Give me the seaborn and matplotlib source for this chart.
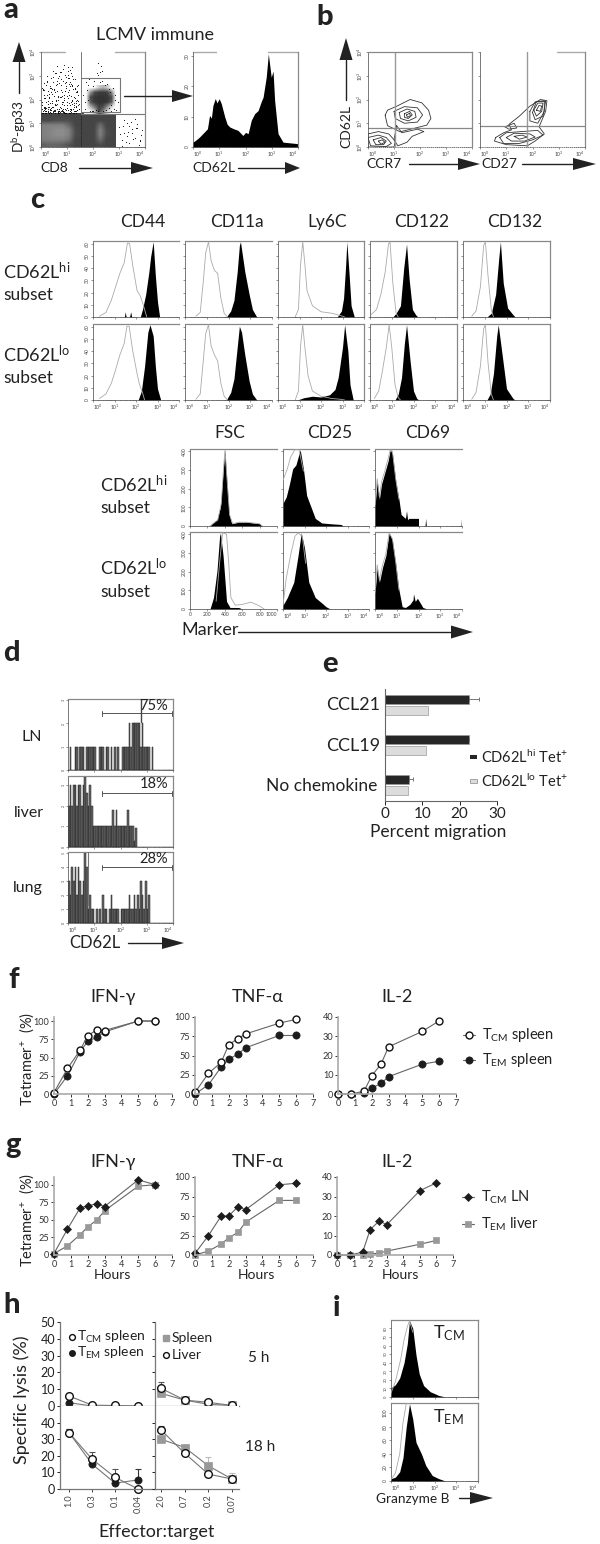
import numpy as np
import pandas as pd
import seaborn as sns
import matplotlib
matplotlib.use('Agg')
import matplotlib.pyplot as plt

sns.set_theme(style='white')
plt.rcParams['font.family'] = ['Lato', 'DejaVu Serif']
plt.rcParams['mathtext.default'] = 'regular'

W, H = 600, 1544
INK = '#222222'
AXGRAY = '#888888'

# ---- values ----
# a: dot plot (log decades)
dots_x = [.05,.1,.15,.2,.25,.3,.35,.4,.45,.5,.55,.6,.65,.7,.75,.8,.85,.9,.95,1.0,1.05,1.1,1.15,1.2,1.25,1.3,1.35,1.4,1.45,
          .08,.18,.28,.38,.48,.58,.68,.78,.88,.98,1.08,1.18,1.28,1.38,.12,.22,.32,.42,.52,.62,.72,.82,.92,1.02,1.12,1.22,1.32,1.42,
          .03,.13,.23,.33,.43,.53,.63,.73,.83,.93,1.03,1.13,1.23,1.33,.07,.27,.47,.67,.87,1.07,1.27,.17,.37,.57,.77,.97,1.17,1.37,
          .11,.31,.51,.71,.91,1.11,1.31,.21,.41,.61,.81,1.01,1.21,1.41,.6,.75,.9,1.05,1.2,1.05,.95,1.1,1.15,
          .2,.3,.5,.7,.9,1.1,1.3,.15,.35,.55,.75,.95,1.15,1.35,.1,.4,.65,.85,1.25,1.4,.05,.25,.45,
          1.62,1.7,1.8,1.72,1.68,1.85,1.95,2.05,2.15,2.25,2.35,2.45,2.55,2.65,2.75,2.85,2.95,2.9,2.8,2.7,2.6,2.5,2.4,2.3,2.2,2.1,2.0,1.9,
          1.75,1.82,2.0,2.6,2.7,2.85,2.3,2.2,2.35,2.2,2.25,2.15,
          3.0,3.1,3.2,3.3,3.4,3.5,3.6,3.7,3.8,3.9,3.05,3.15,3.25,3.35,3.45,3.55,3.65,3.75,3.85,3.2,3.4,3.6,3.8,3.1,3.3,3.5,3.7,
          # denser part of the upper left cloud
          .02,.06,.09,.14,.16,.19,.24,.26,.29,.34,.36,.39,.44,.46,.49,.54,.56,.59,.64,.66,.69,.74,.76,.79,.84,.86,.89,.94,.96,.99,1.04,1.06,1.09,1.14,1.16,1.19,1.24,1.26,1.29,1.34,1.36,1.39,1.44,1.47,
          .04,.1,.16,.22,.28,.34,.4,.46,.52,.58,.64,.7,.76,.82,.88,.94,1.0,1.06,1.12,1.18,1.24,1.3,1.36,1.42,
          .07,.13,.19,.25,.31,.37,.43,.49,.55,.61,.67,.73,.79,.85,.91,.97,1.03,1.09,1.15,1.21,1.27,1.33,1.39,1.45]
dots_y = [1.6,2.2,1.5,2.6,1.8,2.1,1.55,2.9,1.7,2.4,3.1,1.6,2.0,2.7,1.65,2.3,3.3,1.75,2.5,1.9,2.9,1.6,2.15,3.35,1.7,2.45,1.85,2.0,1.6,
          1.5,1.9,2.35,1.65,2.75,1.95,1.5,2.85,2.2,1.55,2.4,1.8,2.1,2.55,2.05,3.0,1.45,2.25,1.8,2.65,2.1,1.55,3.05,2.3,1.75,2.85,1.5,2.2,
          1.75,1.55,2.2,2.55,1.85,1.45,2.35,3.15,1.9,2.7,2.05,2.55,1.6,1.95,2.45,1.7,3.2,1.5,2.0,2.65,1.85,1.65,2.5,2.0,2.1,2.95,1.9,2.3,
          2.7,1.7,2.15,1.6,2.35,3.25,2.05,1.5,2.45,2.8,1.5,2.15,2.6,1.75,3.4,3.15,3.45,3.2,3.0,3.35,2.75,2.75,3.1,
          1.42,1.45,1.5,1.42,1.46,1.44,1.5,1.6,1.48,1.55,1.5,1.45,1.55,1.42,1.65,1.55,1.42,1.47,1.44,1.55,1.42,1.48,1.5,
          2.2,1.6,2.6,2.75,1.9,2.85,1.5,2.8,2.9,2.75,2.8,2.6,2.65,2.3,2.5,2.0,1.9,1.55,1.6,1.5,1.65,1.55,1.5,1.48,1.5,1.55,1.5,1.5,
          2.4,2.0,2.55,2.45,1.75,2.2,3.4,3.55,3.2,3.05,3.15,3.1,
          .85,.3,.6,1.0,.15,.75,.4,.95,.25,.7,.55,.9,.2,.65,1.05,.35,.8,.1,.5,1.15,.9,1.2,.3,.05,.45,.6,.8,
          1.9,1.45,2.4,1.7,2.05,1.5,2.75,1.62,2.25,1.85,2.5,1.45,1.95,2.95,1.55,2.3,1.75,2.6,1.48,2.15,3.0,1.68,2.4,1.9,1.5,2.8,2.05,1.58,2.55,1.78,3.05,1.45,2.2,2.65,1.6,1.95,2.45,1.5,2.85,1.72,2.3,1.55,2.6,1.8,
          2.5,1.7,1.42,2.8,1.95,1.6,2.3,1.46,1.75,3.1,2.1,1.52,2.6,1.82,1.43,2.35,1.65,2.9,1.5,2.0,1.45,2.5,1.7,1.95,
          1.44,2.4,1.65,1.5,2.05,1.43,1.7,2.45,1.52,1.8,2.9,1.47,2.15,1.6,1.44,2.75,1.55,1.85,1.46,2.55,1.75,1.5,2.35,1.62]
band_grays = [[.27,.27,.27,.27,.27,.27,.27,.27,.27,.27,.27,.27],
              [.28,.28,.30,.30,.30,.27,.27,.27,.27,.27,.27,.27],
              [.50,.50,.50,.50,.40,.27,.27,.27,.27,.42,.27,.27],
              [.50,.52,.55,.55,.50,.30,.27,.27,.27,.50,.30,.27],
              [.50,.52,.55,.55,.50,.30,.27,.27,.27,.50,.30,.27],
              [.48,.50,.50,.50,.45,.27,.27,.27,.27,.42,.27,.27],
              [.38,.40,.40,.38,.33,.27,.27,.27,.27,.30,.27,.27]]
blob_grays = [[1,1,1,.8,.7,.8,1,1],
              [1,.6,.3,.24,.24,.26,.55,1],
              [1,.3,.22,.2,.2,.22,.3,1],
              [1,.35,.22,.2,.2,.22,.35,1],
              [1,.7,.45,.25,.3,.55,.85,1],
              [1,1,.8,.25,.5,.85,1,1]]
cd62l_x = [0,.1,.25,.44,.55,.63,.7,.76,.85,.91,1.0,1.08,1.21,1.3,1.4,1.55,1.71,1.9,2.0,2.1,2.22,2.35,2.48,2.6,2.67,2.79,2.87,2.98,3.05,3.11,3.24,3.43,4]
cd62l_y = [1.6,2.2,3.3,5,6,10.4,9.5,13.7,16,14.5,15.9,14.2,9.9,7.5,6.6,6,5.5,3.8,4.8,4.4,8.8,11,12,15,16.4,23,30.7,23,25,15.3,4.4,1.6,1.1]

# b: contour rings (log decades)
ccr7_rings = [[(.66,1.34),(.75,1.55),(1.11,1.72),(1.62,2),(2.07,1.86),(2.33,1.55),(2.42,1.2),(2.26,.92),(1.75,.78),(1.24,.64),(.75,.9)],
              [(1.0,1.5),(1.4,1.7),(1.9,1.65),(2.1,1.35),(1.9,1.05),(1.4,1.0),(1.05,1.2)],
              [(1.2,1.45),(1.5,1.6),(1.8,1.5),(1.85,1.25),(1.55,1.1),(1.25,1.2)],
              [(1.4,1.4),(1.6,1.5),(1.7,1.35),(1.55,1.2),(1.4,1.25)],
              [(1.48,1.35),(1.6,1.42),(1.63,1.32),(1.52,1.25)],
              [(1.1,.9),(1.3,.6),(1.9,.75),(2.15,.65),(1.7,.45),(1.5,.2),(1.15,.05),(1,.3)],
              [(0,.55),(.4,.65),(.8,.55),(1.05,.25),(1,0),(0,0)],
              [(0,.4),(.4,.5),(.7,.4),(.9,.15),(.7,.02),(.1,.05)],
              [(.2,.3),(.5,.4),(.7,.25),(.6,.1),(.3,.1)],
              [(.4,.25),(.55,.3),(.65,.2),(.5,.12)]]
cd27_rings = [[(.6,.4),(.9,.6),(1.2,.72),(1.1,.95),(1.5,1.3),(1.9,1.72),(2.3,2.0),(2.55,1.95),(2.5,1.5),(2.25,.85),(2.45,.55),(2.1,.25),(1.8,.05),(1.0,.1),(.55,.25)],
              [(1.9,1.5),(2.1,1.9),(2.45,1.95),(2.45,1.5),(2.2,1.0),(1.9,1.1)],
              [(2.05,1.55),(2.2,1.85),(2.4,1.85),(2.35,1.5),(2.15,1.3)],
              [(2.15,1.55),(2.25,1.75),(2.35,1.72),(2.3,1.5)],
              [(2.0,1.45),(2.15,1.92),(2.5,1.92),(2.4,1.3),(2.1,1.15)],
              [(.75,.4),(1,.6),(1.6,.65),(2.2,.7),(2.4,.5),(2,.3),(1.5,.15),(.9,.15)],
              [(1.0,.4),(1.3,.58),(1.9,.55),(2.1,.42),(1.7,.25),(1.2,.25)],
              [(1.3,.45),(1.6,.5),(1.8,.42),(1.5,.33)],
              [(.95,.85),(1.3,1.0),(1.4,.8),(1.1,.75)]]

# c: marker histograms, (position, % of peak)
cd44_hi_open = [(.3,1),(.6,6),(.85,22),(1.05,40),(1.25,58),(1.45,72),(1.6,98),(1.7,98),(1.85,68),(2.05,35),(2.2,28),(2.35,15),(2.5,0)]
cd44_hi_fill = [(1.46,0),(1.5,7),(1.54,0),(1.7,0),(1.75,7),(1.8,0),(2.2,0),(2.3,10),(2.45,30),(2.6,60),(2.68,80),(2.8,100),(2.9,55),(3.0,20),(3.1,0)]
cd44_lo_open = [(.3,2),(.6,8),(.85,22),(1.05,40),(1.25,60),(1.45,75),(1.58,98),(1.68,98),(1.85,65),(2.05,35),(2.15,22),(2.3,10),(2.4,0)]
cd44_lo_fill = [(2.1,0),(2.25,12),(2.4,45),(2.55,90),(2.65,100),(2.8,85),(2.9,45),(3.0,15),(3.15,0)]
cd11a_hi_open = [(.5,1),(.7,6),(.85,50),(.95,85),(1.08,100),(1.2,75),(1.35,62),(1.5,58),(1.65,25),(1.8,5),(1.95,0)]
cd11a_hi_fill = [(1.9,0),(2.1,8),(2.25,22),(2.4,60),(2.5,95),(2.55,100),(2.75,60),(2.95,30),(3.1,10),(3.3,0)]
cd11a_lo_open = [(.5,1),(.7,8),(.85,55),(.95,88),(1.08,100),(1.2,72),(1.35,60),(1.5,52),(1.65,22),(1.8,5),(1.95,0)]
cd11a_lo_fill = [(1.9,0),(2.1,10),(2.25,28),(2.4,70),(2.5,98),(2.6,90),(2.75,60),(2.95,25),(3.1,8),(3.3,0)]
ly6c_hi_open = [(.8,0),(.95,10),(1.05,70),(1.15,100),(1.25,70),(1.35,35),(1.6,15),(2,7),(2.5,5),(2.9,2),(3.1,0)]
ly6c_hi_fill = [(2.75,0),(2.95,8),(3.05,25),(3.15,70),(3.2,100),(3.3,60),(3.4,15),(3.55,0)]
ly6c_lo_open = [(.8,0),(.95,12),(1.05,72),(1.15,100),(1.25,70),(1.4,32),(1.6,12),(2,5),(2.5,2),(2.9,1),(3.1,0)]
ly6c_lo_fill = [(.9,0),(1.2,3),(1.6,5),(2,4),(2.4,7),(2.65,14),(2.8,30),(3.0,70),(3.1,100),(3.25,65),(3.35,20),(3.5,0)]
cd122_hi_open = [(.05,3),(.3,10),(.5,30),(.7,60),(.85,97),(.92,100),(1.05,45),(1.2,5),(1.3,0)]
cd122_hi_fill = [(1.05,0),(1.2,5),(1.4,15),(1.55,65),(1.68,97),(1.8,50),(1.95,10),(2.1,3),(2.2,0)]
cd122_lo_open = [(.2,2),(.4,12),(.55,35),(.75,70),(.88,100),(1.0,70),(1.15,20),(1.3,3),(1.4,0)]
cd122_lo_fill = [(1.15,0),(1.3,8),(1.45,30),(1.58,75),(1.68,100),(1.85,50),(2.0,12),(2.15,2),(2.25,0)]
cd132_hi_open = [(.4,1),(.6,8),(.8,40),(.95,95),(1.03,100),(1.15,55),(1.3,10),(1.4,0)]
cd132_hi_fill = [(1.1,0),(1.3,5),(1.5,30),(1.65,80),(1.72,100),(1.85,45),(2.05,12),(2.3,3),(2.4,0)]
cd132_lo_open = [(.4,1),(.6,10),(.8,45),(.95,95),(1.03,100),(1.15,50),(1.3,8),(1.4,0)]
cd132_lo_fill = [(1.1,0),(1.25,8),(1.4,35),(1.55,85),(1.62,100),(1.8,60),(2.0,15),(2.3,2),(2.4,0)]

fsc_hi_open = [(230,0),(320,8),(360,30),(385,75),(402,100),(425,62),(455,15),(490,3),(560,5),(650,5),(800,3),(830,0)]
fsc_hi_fill = [(230,0),(260,4),(310,8),(350,25),(380,70),(400,100),(420,65),(450,15),(480,3),(560,5),(650,5),(800,3),(830,0)]
fsc_lo_open = [(300,10),(340,60),(375,100),(420,98),(445,60),(470,15),(520,5),(600,6),(700,9),(800,4),(850,0)]
fsc_lo_fill = [(230,0),(270,15),(310,50),(340,95),(350,100),(380,70),(420,10),(460,2),(560,2),(600,0)]
cd25_hi_open = [(0,60),(.2,75),(.35,90),(.55,100),(.75,100),(.95,72)]
cd25_hi_fill = [(0,30),(.15,38),(.3,55),(.45,75),(.6,80),(.8,100),(.95,75),(1.1,40),(1.3,25),(1.5,10),(1.8,4),(2.2,3),(2.7,2),(2.8,0)]
cd25_lo_open = [(0,5),(.15,40),(.35,70),(.55,95),(.7,100),(.9,95),(1.05,60)]
cd25_lo_fill = [(0,5),(.2,15),(.5,35),(.7,70),(.85,100),(1.0,80),(1.2,35),(1.5,15),(1.8,8),(2,3),(2.2,0)]
cd69_hi_open = [(0,28),(.1,62),(.2,38),(.3,58),(.45,72),(.6,88),(.7,100),(.8,98),(.95,62),(1.1,35)]
cd69_hi_fill = [(0,25),(.1,60),(.2,35),(.3,55),(.45,70),(.6,85),(.7,100),(.8,95),(.95,60),(1.1,35),(1.2,15),(1.4,10),(1.45,20),(1.5,8),(1.55,10),(2,10),(2.0,0),(2.3,0),(2.33,10),(2.36,0),(3.95,0),(3.97,10)]
cd69_lo_open = [(0,22),(.1,58),(.2,38),(.35,58),(.5,72),(.65,100),(.8,92),(.95,62),(1.1,25)]
cd69_lo_fill = [(0,20),(.1,55),(.2,35),(.35,55),(.5,70),(.65,100),(.8,90),(.95,60),(1.1,25),(1.25,3),(1.4,2),(1.6,6),(1.75,12),(1.77,20),(1.85,10),(1.95,14),(2.1,7),(2.2,2),(2.4,0)]

# d: spiky counts, 64 bins across four decades
lymph_counts = [0,1,0,0,1,1,0,1,1,1,0,1,1,1,1,1,1,0,0,1,1,1,0,1,1,0,1,0,1,0,1,0,0,1,1,1,1,2,1,2,2,2,2,2,1,2,1,1,1,1,0,1,0,0,0,0,0,0,0,0,0,0,0,0]
liver_counts = [2,3,2,3,3,2,3,3,2,3,3.4,2.6,2,3,2,1,1,1,1,1,1,1,1,1,1,1,1,1.8,1,1.8,1,1,1,1,1,1,1.8,1,1,1,0.3,0.9,0,0,0,0,0,0,0,0,0,0,0,0,0,0,0,0,0,0,0,0,0,0]
lung_counts = [3,2,4,3,4,2,4,3,2,3,5,4,1,2,1,1,0,1,0,1,0,2,1,1,0,1,2,1,1,1,1,0,1,1,1,1,1,2,1,1,2,1,2,1,3,2,1,3,1,2,0,0,0,0,0,0,0,0,0,0,0,0,0,0]

# e
chemokines = ['CCL21', 'CCL19', 'No chemokine']
migration_hi = [22.5, 22.5, 6.5]
migration_lo = [11.5, 11.0, 6.2]
migration_hi_err = [2.6, 0, 1.0]

# f, g
hours = [0, .8, 1.55, 2, 2.55, 3, 5, 6]
f_ifn_cm = [2, 35, 60, 80, 88, 87, 100, 100]
f_ifn_em = [0, 25, 58, 72, 78, 85, 100, 100]
f_tnf_cm = [2, 27, 41, 64, 72, 78, 92, 97]
f_tnf_em = [0, 12, 35, 45, 52, 60, 76, 76]
f_il2_cm = [0, 0, 1.5, 9.5, 15.5, 24.5, 32.5, 38]
f_il2_em = [0, 0, .5, 3, 5.5, 9, 15.5, 17]
g_ifn_cm = [2, 37, 67, 70, 73, 69, 107, 100]
g_ifn_em = [2, 13, 29, 40, 50, 63, 98, 100]
g_tnf_cm = [2, 25, 50, 50, 62, 58, 90, 92]
g_tnf_em = [0, 5, 14, 22, 29, 42, 70, 70]
g_il2_cm = [0, 0, 1.5, 13, 17.5, 15.5, 33, 37]
g_il2_em = [0, 0, 0, .5, 1, 2, 5.5, 7.5]

# h
ratio_left = ['1.0', '0.3', '0.1', '0.04']
ratio_right = ['2.0', '0.7', '0.2', '0.07']
lysis5_cm = [6, .5, .3, 0]
lysis5_em = [2, 0, 0, 0]
lysis5_spleen = [7.5, 3.5, 1, .3]
lysis5_liver = [10.5, 3.5, 2.2, .3]
lysis18_cm = [34, 18, 7, 0]
lysis18_em = [34, 15, 3.5, 5.5]
lysis18_spleen = [30, 25, 14, 6]
lysis18_liver = [35.5, 21.5, 9, 6]
lysis5_liver_err = [3.5, 1, .5, 0]
lysis18_cm_err = [2, 4, 5, 0]
lysis18_em_err = [2, 2, 2, 6.5]
lysis18_spleen_err = [0, 0, 5.5, 3.5]
lysis18_liver_err = [2.5, 2.5, 2.5, 1]

# i
gzmb_cm_open = [(0,5),(.2,20),(.45,50),(.6,75),(.75,92),(.85,100),(1.0,85)]
gzmb_cm_fill = [(0,12),(.2,16),(.4,25),(.6,45),(.75,70),(.85,100),(1.0,90),(1.15,55),(1.3,30),(1.5,15),(1.8,7),(2.2,2),(2.5,0)]
gzmb_em_open = [(0,2),(.2,10),(.4,35),(.55,75),(.7,100),(.85,100)]
gzmb_em_fill = [(0,3),(.2,5),(.4,12),(.55,30),(.7,70),(.85,100),(1.0,80),(1.15,50),(1.4,35),(1.6,20),(1.9,7),(2.2,3),(2.5,0)]


fig = plt.figure(figsize=(W / 100, H / 100), dpi=100, facecolor='white')

def px_ax(x0, y0, x1, y1):
    return fig.add_axes([x0 / W, 1 - y1 / H, (x1 - x0) / W, (y1 - y0) / H])

# overlay in pixel coordinates, for labels and arrows
ov = fig.add_axes([0, 0, 1, 1], zorder=20, facecolor='none')
ov.set_xlim(0, W)
ov.set_ylim(H, 0)
ov.axis('off')

def label(x, y, s, size=11.5, ha='center', rot=0, color=INK, weight='normal'):
    ov.text(x, y, s, fontsize=size, ha=ha, va='center', rotation=rot, color=color, fontweight=weight)

def letter(x, y, s):
    ov.text(x, y, s, fontsize=21, ha='left', va='baseline', color=INK, fontweight='black')

def arrow(x0, y0, x1, y1, head=20, wid=13):
    d = np.array([x1 - x0, y1 - y0], float)
    d = d / np.hypot(*d)
    n = np.array([-d[1], d[0]])
    tip = np.array([x1, y1], float)
    base = tip - d * head
    ov.plot([x0, base[0]], [y0, base[1]], color=INK, lw=1)
    ov.fill(*zip(tip, base + n * wid / 2, base - n * wid / 2), color=INK, lw=0)

def decades(ax, show_x=True):
    ax.set_xlim(0, 4)
    ax.set_xticks(range(5))
    ax.set_xticks(np.log10(np.arange(2, 10)).tolist() + (1 + np.log10(np.arange(2, 10))).tolist()
                  + (2 + np.log10(np.arange(2, 10))).tolist() + (3 + np.log10(np.arange(2, 10))).tolist(), minor=True)
    ax.set_xticklabels([f'$10^{k}$' for k in range(5)] if show_x else [])
    if show_x:
        # end labels kept inside the panel so neighbours do not collide
        ax.get_xticklabels()[0].set_ha('left')
        ax.get_xticklabels()[-1].set_ha('right')

def flow(ax, yticks, ymax, show_x=False, show_y=True, log_x=True, top=True, right=True, top_gaps=None, scale=1):
    if log_x:
        decades(ax, show_x)
    ax.set_ylim(0, ymax)
    ax.set_yticks([t * scale for t in yticks])
    ax.set_yticklabels([str(t) for t in yticks] if show_y else [], rotation=90, va='center')
    ax.tick_params(axis='both', which='major', labelsize=3.6, length=1.6, width=.4, pad=.6, colors='#444444', left=True, bottom=True)
    ax.tick_params(axis='x', which='minor', length=.8, width=.3, colors='#444444', bottom=True)
    ax.grid(False)
    for s in ['left', 'bottom']:
        ax.spines[s].set_linewidth(.5)
        ax.spines[s].set_color('#444444')
        ax.spines[s].set_visible(True)
    ax.spines['left'].set_linestyle((0, (1, 1)))
    ax.spines['top'].set_visible(top and top_gaps is None)
    ax.spines['right'].set_visible(right)
    for s in ['top', 'right']:
        ax.spines[s].set_color(AXGRAY)
        ax.spines[s].set_linewidth(.9)
    if top_gaps:
        for a, b in top_gaps:
            ax.plot([a, b], [1, 1], color='#aaaaaa', lw=1, transform=ax.transAxes, clip_on=False)

def hist_panel(ax, open_xy, fill_xy):
    fx, fy = zip(*fill_xy)
    ax.fill_between(fx, fy, color='black', lw=0)
    ox, oy = zip(*open_xy)
    sns.lineplot(x=list(ox), y=list(oy), color='#aaaaaa', lw=.6, sort=False, errorbar=None, ax=ax, zorder=3)
    ax.set_xlabel('')
    ax.set_ylabel('')

# ---- a ----
ax = px_ax(41, 52, 145, 147)
ax.imshow(band_grays, cmap='gray', vmin=0, vmax=1, extent=(0, 2.85, 0, 1.4), origin='upper', interpolation='bilinear', aspect='auto')
ax.imshow(blob_grays, cmap='gray', vmin=0, vmax=1, extent=(1.65, 2.95, 1.4, 2.6), origin='upper', interpolation='bilinear', aspect='auto')
sns.scatterplot(x=dots_x, y=dots_y, s=.6, color='black', linewidth=0, ax=ax)
ax.plot([1.55, 1.55], [1.4, 4], color='#777777', lw=.7)
ax.plot([1.55, 1.55], [0, 1.4], color='#222222', lw=.6, ls=(0, (2, 1)))
ax.plot([1.55, 4], [1.38, 1.38], color='#777777', lw=.8)
ax.plot([1.55, 3.03, 3.03, 1.55], [2.92, 2.92, 1.48, 1.48], color='#777777', lw=.8)
flow(ax, [0, 1, 2, 3, 4], 4, show_x=True, top_gaps=[(0, .23), (.71, 1)])
ax.set_yticklabels(['$10^%d$' % k for k in range(5)], rotation=90, va='center')
ax.set_xlim(0, 4)
ax.set_ylim(0, 4)

ax = px_ax(193, 52, 298, 147)
ax.fill_between(cd62l_x, cd62l_y, color='black', lw=0)
flow(ax, [0, 10, 20, 30], 31.3, show_x=True, top_gaps=[(0, .22), (.71, 1)])

label(155, 35, 'LCMV immune', 13)
label(19, 127, '$D^b$-gp33', 9.8, rot=90)
label(54, 168, 'CD8', 10)
label(214, 168, 'CD62L', 10)
arrow(19, 93, 19, 42, 20, 13)
arrow(79, 168, 153, 168, 22, 12)
arrow(124, 96, 193, 96, 21, 12)
arrow(238, 168, 300, 168, 15, 12)
letter(3, 18, 'a')

# ---- b ----
for (x0, x1, rings, gx, gy, gaps, yl) in [(368, 472, ccr7_rings, 1.03, .82, None, True),
                                          (480, 585, cd27_rings, 1.78, .88, [(.73, 1)], False)]:
    ax = px_ax(x0, 52, x1, 147)
    for ring in rings:
        rx, ry = zip(*(ring + ring[:1]))
        ax.plot(rx, ry, color='#333333', lw=.6)
    ax.plot([gx, gx], [0, 4], color='#999999', lw=1)
    ax.plot([0, 4], [gy, gy], color='#888888', lw=.9)
    flow(ax, [0, 1, 2, 3, 4], 4, show_x=True, top_gaps=gaps)
    ax.set_yticklabels(['$10^%d$' % k for k in range(5)] if yl else [], rotation=90, va='center')
    ax.spines['bottom'].set_linestyle((0, (1, 2)))

label(346, 126, 'CD62L', 10, rot=90)
label(384, 164, 'CCR7', 10)
label(499, 164, 'CD27', 10)
arrow(346, 100, 346, 38, 22, 13)
arrow(409, 164, 480, 164, 22, 12)
arrow(522, 164, 596, 164, 23, 12)
letter(316, 25, 'b')

# ---- c ----
c_columns = [(93, 179), (185, 272), (278, 364), (370, 457), (463, 550)]
c_top_rows = [(241, 317), (324, 400)]
c_titles = ['CD44', 'CD11a', 'Ly6C', 'CD122', 'CD132']
c_title_x = [143, 237, 327, 422, 515]
c_hists = [[(cd44_hi_open, cd44_hi_fill), (cd11a_hi_open, cd11a_hi_fill), (ly6c_hi_open, ly6c_hi_fill), (cd122_hi_open, cd122_hi_fill), (cd132_hi_open, cd132_hi_fill)],
           [(cd44_lo_open, cd44_lo_fill), (cd11a_lo_open, cd11a_lo_fill), (ly6c_lo_open, ly6c_lo_fill), (cd122_lo_open, cd122_lo_fill), (cd132_lo_open, cd132_lo_fill)]]
for r, (y0, y1) in enumerate(c_top_rows):
    for c, (x0, x1) in enumerate(c_columns):
        ax = px_ax(x0, y0, x1, y1)
        hist_panel(ax, *c_hists[r][c])
        flow(ax, [0, 10, 20, 30, 40, 50, 60], 101, show_x=(r == 1), show_y=(c == 0), right=(c >= 2), scale=1.617)
        ax.set_xlim(0, 4)
for s, x in zip(c_titles, c_title_x):
    label(x, 222, s, 12.5)

c_low_columns = [(190, 277), (283, 369), (375, 462)]
c_low_rows = [(449, 526), (532, 609)]
c_low_hists = [[(fsc_hi_open, fsc_hi_fill), (cd25_hi_open, cd25_hi_fill), (cd69_hi_open, cd69_hi_fill)],
               [(fsc_lo_open, fsc_lo_fill), (cd25_lo_open, cd25_lo_fill), (cd69_lo_open, cd69_lo_fill)]]
for r, (y0, y1) in enumerate(c_low_rows):
    for c, (x0, x1) in enumerate(c_low_columns):
        ax = px_ax(x0, y0, x1, y1)
        hist_panel(ax, *c_low_hists[r][c])
        flow(ax, [0, 100, 200, 300, 400], 101, show_x=(r == 1), show_y=(c == 0), log_x=(c > 0), right=False, scale=.245)
        if c == 0:
            ax.set_xlim(0, 1000)
            ax.set_xticks([0, 200, 400, 600, 800, 1000])
            ax.set_xticklabels(['0', '200', '400', '600', '800', '1000'] if r == 1 else [])
            ax.tick_params(axis='x', labelsize=3.6, length=1.6, width=.4, pad=.6)
            if r == 1:
                ax.get_xticklabels()[-1].set_ha('right')
for s, x in zip(['FSC', 'CD25', 'CD69'], [230, 330, 428]):
    label(x, 433, s, 12.5)

for x, ys in [(3, (272, 295, 355, 378)), (100, (485, 508, 568, 592))]:
    hi_y, sub1, lo_y, sub2 = ys
    ov.text(x, hi_y, 'CD62L$^{hi}$', fontsize=13, ha='left', va='center', color=INK)
    ov.text(x, sub1, 'subset', fontsize=12.5, ha='left', va='center', color=INK)
    ov.text(x, lo_y, 'CD62L$^{lo}$', fontsize=13, ha='left', va='center', color=INK)
    ov.text(x, sub2, 'subset', fontsize=12.5, ha='left', va='center', color=INK)
label(181, 630, 'Marker', 13, ha='left')
arrow(238, 632, 473, 632, 22, 13)
letter(30, 208, 'c')

# ---- d ----
d_edges = np.linspace(0, 4, 65)
d_centers = (d_edges[:-1] + d_edges[1:]) / 2
d_rows = [(699, 770, lymph_counts, 3.05, [0, 1, 2, 3], '75%', 706, 713),
          (776, 847, liver_counts, 3.45, [0, 1, 2, 3], '18%', 784, 793),
          (852, 923, lung_counts, 5.05, [0, 1, 2, 3, 4, 5], '28%', 859, 867)]
for k, (y0, y1, counts, ymax, yt, pct, pct_y, gate_y) in enumerate(d_rows):
    ax = px_ax(68, y0, 173, y1)
    d_frame = pd.DataFrame({'pos': d_centers, 'count': counts})
    sns.histplot(data=d_frame, x='pos', weights='count', bins=d_edges.tolist(), color='#666666', edgecolor='#222222', linewidth=.35, alpha=1, ax=ax)
    ax.set_ylabel('')
    ax.set_xlabel('')
    flow(ax, yt, ymax, show_x=(k == 2), show_y=True)
    ax.tick_params(axis='y', labelsize=2.6, length=1.2)
    label(168, pct_y, pct, 10.5, ha='right')
    ov.plot([102, 172], [gate_y, gate_y], color='#555555', lw=.7)
    ov.plot([102, 102], [gate_y - 2.5, gate_y + 2.5], color='#555555', lw=.7)
    ov.plot([172, 172], [gate_y - 2.5, gate_y + 2.5], color='#555555', lw=.7)
ov.plot([141, 141], [699, 722], color='#444444', lw=1)
ov.plot([88, 88], [852, 905], color='#777777', lw=.8)
label(32, 737, 'LN', 11.5)
label(29, 813, 'liver', 11.5)
label(28, 888, 'lung', 11.5)
label(95, 943, 'CD62L', 12)
arrow(128, 943, 184, 943, 22, 12)
letter(3, 661, 'd')

# ---- e ----
ax = px_ax(385, 689, 497, 801)
e_frame = pd.DataFrame({'chemokine': chemokines * 2,
                        'migration': migration_hi + migration_lo,
                        'subset': ['hi'] * 3 + ['lo'] * 3})
sns.barplot(data=e_frame, y='chemokine', x='migration', hue='subset', order=chemokines,
            palette={'hi': '#262626', 'lo': '#dcdcdc'}, width=.58, gap=.2, edgecolor='#999999', linewidth=.5,
            legend=False, orient='h', ax=ax)
ax.errorbar(migration_hi, [-.145, .855, 1.855], xerr=[[0, 0, 0], migration_hi_err], fmt='none',
            ecolor='#777777', elinewidth=.7, capsize=1.5, capthick=.7)
ax.set_xlim(0, 30)
ax.set_ylim(2.4, -.4)
ax.set_xticks([0, 10, 20, 30])
ax.set_yticks([0, 1, 2])
ax.set_yticklabels([])
ax.set_xlabel('')
ax.set_ylabel('')
ax.tick_params(axis='x', labelsize=11, length=3, width=.7, pad=1, colors=INK, bottom=True)
ax.tick_params(axis='y', length=0)
sns.despine(ax=ax)
for s in ['left', 'bottom']:
    ax.spines[s].set_color('#666666')
    ax.spines[s].set_linewidth(.8)
label(380, 705, 'CCL21', 13, ha='right')
label(380, 746, 'CCL19', 13, ha='right')
label(377, 786, 'No chemokine', 12.5, ha='right')
label(438, 832, 'Percent migration', 12.5)
ov.fill([470, 477, 477, 470], [755, 755, 759, 759], color='#262626', lw=0)
ov.fill([470, 477, 477, 470], [779, 779, 783, 783], facecolor='#dcdcdc', edgecolor='#888888', lw=.5)
ov.text(481, 757, 'CD62L$^{hi}$ Tet$^{+}$', fontsize=10.5, ha='left', va='center', color=INK)
ov.text(481, 781, 'CD62L$^{lo}$ Tet$^{+}$', fontsize=10.5, ha='left', va='center', color=INK)
letter(322, 672, 'e')

# ---- f, g ----
def kinetics(ax, first, second, ymax_tick, ymax, yt, styles):
    for vals, st in zip((first, second), styles):
        sns.lineplot(x=hours, y=vals, color='#666666', lw=.8, errorbar=None, ax=ax, clip_on=False, **st)
    ax.set_xlim(0, 7)
    ax.set_ylim(0, ymax)
    ax.set_xticks(range(8))
    ax.set_yticks(yt)
    ax.set_xlabel('')
    ax.set_ylabel('')
    ax.tick_params(axis='both', labelsize=6.6, length=2.5, width=.7, pad=.8, colors='#333333', left=True, bottom=True)
    sns.despine(ax=ax)
    for s in ['left', 'bottom']:
        ax.spines[s].set_color('#aaaaaa')
        ax.spines[s].set_linewidth(1.2)

open_st = dict(marker='o', markersize=5, markerfacecolor='white', markeredgecolor='#111111', markeredgewidth=1)
solid_st = dict(marker='o', markersize=5.2, markerfacecolor='#1c1c1c', markeredgecolor='#1c1c1c', markeredgewidth=.5)
dia_st = dict(marker='D', markersize=4, markerfacecolor='#1c1c1c', markeredgecolor='#1c1c1c', markeredgewidth=.5)
sq_st = dict(marker='s', markersize=5, markerfacecolor='#999999', markeredgecolor='#999999', markeredgewidth=.5)

f_axes = [(54, 172, f_ifn_em, f_ifn_cm, 105.5, [0, 25, 50, 75, 100]),
          (195, 313, f_tnf_em, f_tnf_cm, 100, [0, 25, 50, 75, 100]),
          (338, 456, f_il2_em, f_il2_cm, 40, [0, 10, 20, 30, 40])]
for x0, x1, em, cm, ymax, yt in f_axes:
    ax = px_ax(x0, 1017, x1, 1094)
    kinetics(ax, em, cm, yt[-1], ymax, yt, (solid_st, open_st))

g_axes = [(54, 172, g_ifn_cm, g_ifn_em, 111, [0, 25, 50, 75, 100]),
          (195, 313, g_tnf_cm, g_tnf_em, 100, [0, 25, 50, 75, 100]),
          (337, 453, g_il2_cm, g_il2_em, 40, [0, 10, 20, 30, 40])]
for x0, x1, cm, em, ymax, yt in g_axes:
    ax = px_ax(x0, 1177, x1, 1255)
    kinetics(ax, em, cm, yt[-1], ymax, yt, (sq_st, dia_st))

for x, s in zip([113, 258, 397], ['IFN-γ', 'TNF-α', 'IL-2']):
    label(x, 997, s, 13)
    label(x, 1162, s, 13)
for x in [112, 256, 400]:
    label(x, 1275, 'Hours', 10)

label(27, 1059, 'Tetramer$^{+}$  (%)', 10.5, rot=90)
label(27, 1220, 'Tetramer$^{+}$  (%)', 10.5, rot=90)

def legend_row(x, y, st, text, tx=None, size=10.5):
    ov.plot([x - 6, x + 6], [y, y], color='#666666', lw=.8)
    ov.plot([x], [y], linestyle='none', **st)
    ov.text(x + 13 if tx is None else tx, y, text, fontsize=size, ha='left', va='center', color=INK)

legend_row(469, 1035, open_st, '$T_{CM}$ spleen')
legend_row(469, 1060, solid_st, '$T_{EM}$ spleen')
legend_row(468, 1197, dia_st, '$T_{CM}$ LN')
legend_row(468, 1224, sq_st, '$T_{EM}$ liver')
letter(8, 988, 'f')
letter(5, 1153, 'g')

# ---- h ----
def lysis(ax, series, xlim, yt_labels):
    for vals, errs, st, ecol in series:
        if errs is not None:
            ax.errorbar(range(4), vals, yerr=[[0] * 4, errs], fmt='none', ecolor=ecol, elinewidth=.8, capsize=2, capthick=.8, zorder=1)
        sns.lineplot(x=list(range(4)), y=vals, color='#777777', lw=.8, errorbar=None, ax=ax, clip_on=False, **st)
    ax.set_xlim(*xlim)
    ax.set_ylim(0, 50)
    ax.set_yticks([0, 10, 20, 30, 40, 50])
    ax.set_xticks(range(4))
    ax.set_xlabel('')
    ax.set_ylabel('')
    ax.tick_params(axis='y', labelsize=9, length=2.5, width=.7, pad=1, colors=INK, left=True)
    ax.tick_params(axis='x', labelsize=6.6, length=2, width=.7, pad=2, colors='#444444', bottom=True)
    if not yt_labels:
        ax.set_yticklabels([])
    sns.despine(ax=ax)
    for s in ['left', 'bottom']:
        ax.spines[s].set_color('#777777')
        ax.spines[s].set_linewidth(.9)

h_open = dict(marker='o', markersize=5.5, markerfacecolor='white', markeredgecolor='#111111', markeredgewidth=1)
h_sq = dict(marker='s', markersize=5.5, markerfacecolor='#999999', markeredgecolor='#999999', markeredgewidth=.5)
left_lim = (-.39, 3.73)
right_lim = (-.26, 3.3)

ax = px_ax(60, 1322, 155, 1406)
lysis(ax, [(lysis5_em, None, solid_st, '#333333'), (lysis5_cm, None, h_open, '#333333')], left_lim, True)
ax.set_xticklabels([])
ax.tick_params(axis='x', length=0)
ax = px_ax(155, 1322, 239, 1406)
lysis(ax, [(lysis5_spleen, None, h_sq, '#aaaaaa'), (lysis5_liver, lysis5_liver_err, h_open, '#555555')], right_lim, False)
ax.set_xticklabels([])
ax.tick_params(axis='x', length=0)
ax = px_ax(60, 1406, 155, 1489)
lysis(ax, [(lysis18_em, lysis18_em_err, solid_st, '#333333'), (lysis18_cm, lysis18_cm_err, h_open, '#555555')], left_lim, True)
ax.set_yticks([0, 10, 20, 30, 40])
ax.set_xticklabels(ratio_left, rotation=90)
ax = px_ax(155, 1406, 239, 1489)
lysis(ax, [(lysis18_spleen, lysis18_spleen_err, h_sq, '#bbbbbb'), (lysis18_liver, lysis18_liver_err, h_open, '#555555')], right_lim, False)
ax.set_yticks([0, 10, 20, 30, 40])
ax.set_yticklabels([])
ax.set_xticklabels(ratio_right, rotation=90)

label(22, 1400, 'Specific lysis (%)', 13, rot=90)
label(157, 1532, 'Effector:target', 13)
label(259, 1358, '5 h', 11)
label(260, 1447, '18 h', 11)
small_open = dict(marker='o', markersize=4.2, markerfacecolor='white', markeredgecolor='#111111', markeredgewidth=1)
small_solid = dict(marker='o', markersize=4, markerfacecolor='#1c1c1c', markeredgecolor='#1c1c1c')
small_sq = dict(marker='s', markersize=4.5, markerfacecolor='#999999', markeredgecolor='#999999')
ov.plot([72], [1337], linestyle='none', **small_open)
ov.plot([72], [1353], linestyle='none', **small_solid)
ov.plot([166], [1338], linestyle='none', **small_sq)
ov.plot([166], [1355], linestyle='none', **small_open)
ov.text(77, 1337, '$T_{CM}$ spleen', fontsize=10, ha='left', va='center', color=INK)
ov.text(77, 1353, '$T_{EM}$ spleen', fontsize=10, ha='left', va='center', color=INK)
ov.text(172, 1338, 'Spleen', fontsize=10, ha='left', va='center', color=INK)
ov.text(172, 1355, 'Liver', fontsize=10, ha='left', va='center', color=INK)
letter(3, 1313, 'h')

# ---- i ----
ax = px_ax(391, 1320, 478, 1397)
hist_panel(ax, gzmb_cm_open, gzmb_cm_fill)
flow(ax, [0, 10, 20, 30, 40, 50, 60, 70, 80], 101, scale=1.125)
ax.tick_params(axis='y', labelsize=3)
ax = px_ax(391, 1403, 478, 1481)
hist_panel(ax, gzmb_em_open, gzmb_em_fill)
flow(ax, [0, 20, 40, 60, 80, 100], 101, show_x=True, scale=.88)
label(433, 1333, '$T_{CM}$', 13, ha='left')
label(433, 1417, '$T_{EM}$', 13, ha='left')
label(413, 1499, 'Granzyme B', 9.8)
arrow(459, 1498, 493, 1498, 23, 12)
letter(333, 1316, 'i')

fig.savefig('out.png', dpi=100)
